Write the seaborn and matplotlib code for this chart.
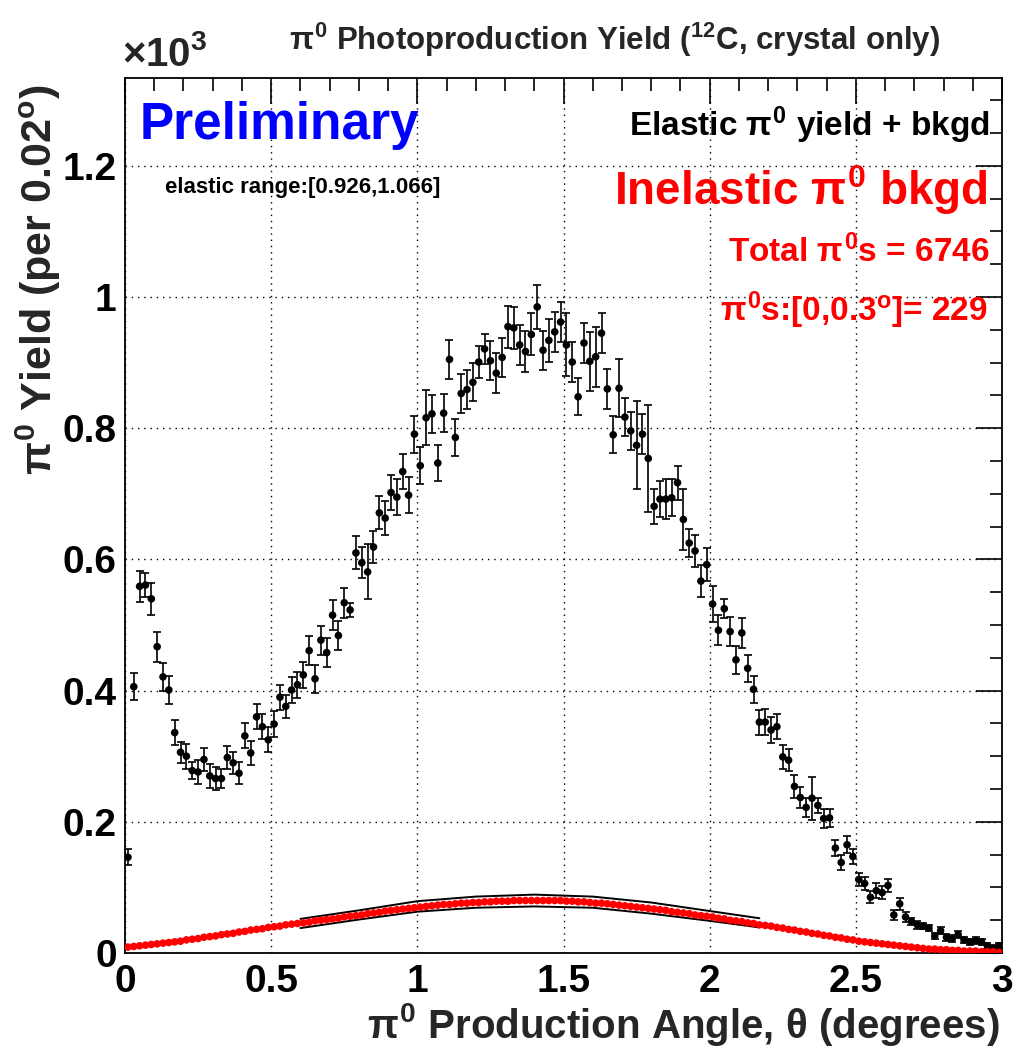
import numpy as np
import pandas as pd
import matplotlib
matplotlib.use("Agg")
import matplotlib.pyplot as plt
from matplotlib.ticker import MultipleLocator, FuncFormatter
import seaborn as sns

# bins of 0.02 degrees, values in units of 10^3
angle = np.round(np.arange(150) * 0.02 + 0.01, 2)

yield_vals = [
    0.146, 0.406, 0.559, 0.561, 0.540, 0.467, 0.421, 0.401, 0.336, 0.306,
    0.300, 0.278, 0.276, 0.295, 0.270, 0.266, 0.266, 0.298, 0.290, 0.274,
    0.331, 0.305, 0.360, 0.345, 0.325, 0.349, 0.390, 0.376, 0.401, 0.409,
    0.424, 0.461, 0.418, 0.477, 0.458, 0.515, 0.484, 0.534, 0.523, 0.610,
    0.595, 0.581, 0.619, 0.671, 0.663, 0.702, 0.695, 0.734, 0.698, 0.791,
    0.743, 0.816, 0.822, 0.747, 0.823, 0.905, 0.786, 0.853, 0.859, 0.870,
    0.901, 0.921, 0.903, 0.884, 0.908, 0.955, 0.953, 0.927, 0.917, 0.943,
    0.985, 0.919, 0.934, 0.947, 0.962, 0.927, 0.901, 0.848, 0.930, 0.902,
    0.909, 0.945, 0.860, 0.790, 0.861, 0.817, 0.796, 0.774, 0.791, 0.754,
    0.681, 0.692, 0.692, 0.694, 0.717, 0.661, 0.625, 0.613, 0.567, 0.592,
    0.532, 0.492, 0.525, 0.490, 0.447, 0.488, 0.434, 0.402, 0.352, 0.352,
    0.340, 0.345, 0.299, 0.294, 0.254, 0.237, 0.222, 0.236, 0.225, 0.205,
    0.206, 0.160, 0.138, 0.165, 0.147, 0.112, 0.106, 0.085, 0.095, 0.092,
    0.103, 0.058, 0.075, 0.055, 0.048, 0.043, 0.041, 0.038, 0.026, 0.034,
    0.024, 0.022, 0.028, 0.020, 0.017, 0.019, 0.017, 0.011, 0.007, 0.011,
]

yield_err = [
    0.012, 0.021, 0.024, 0.018, 0.024, 0.023, 0.021, 0.021, 0.019, 0.016,
    0.019, 0.013, 0.018, 0.018, 0.018, 0.017, 0.014, 0.018, 0.017, 0.017,
    0.019, 0.018, 0.019, 0.019, 0.019, 0.020, 0.019, 0.017, 0.020, 0.020,
    0.020, 0.022, 0.021, 0.022, 0.022, 0.023, 0.022, 0.023, 0.011, 0.025,
    0.024, 0.042, 0.025, 0.025, 0.026, 0.027, 0.027, 0.027, 0.027, 0.028,
    0.028, 0.042, 0.029, 0.028, 0.029, 0.030, 0.028, 0.030, 0.030, 0.029,
    0.024, 0.023, 0.030, 0.031, 0.030, 0.032, 0.032, 0.031, 0.031, 0.032,
    0.033, 0.030, 0.033, 0.031, 0.031, 0.048, 0.031, 0.028, 0.030, 0.045,
    0.046, 0.030, 0.030, 0.028, 0.044, 0.029, 0.029, 0.067, 0.031, 0.082,
    0.027, 0.028, 0.030, 0.028, 0.026, 0.046, 0.021, 0.025, 0.025, 0.025,
    0.027, 0.023, 0.015, 0.022, 0.021, 0.023, 0.021, 0.021, 0.019, 0.020,
    0.020, 0.019, 0.018, 0.017, 0.017, 0.016, 0.015, 0.033, 0.012, 0.015,
    0.014, 0.012, 0.012, 0.013, 0.012, 0.010, 0.010, 0.009, 0.011, 0.010,
    0.010, 0.008, 0.009, 0.008, 0.006, 0.006, 0.005, 0.005, 0.005, 0.005,
    0.005, 0.005, 0.005, 0.005, 0.005, 0.005, 0.005, 0.005, 0.005, 0.005,
]

bkgd_vals = [
    0.009, 0.010, 0.011, 0.012, 0.013, 0.014, 0.015, 0.016, 0.017, 0.018,
    0.020, 0.021, 0.022, 0.024, 0.025, 0.026, 0.028, 0.029, 0.030, 0.032,
    0.033, 0.035, 0.036, 0.037, 0.039, 0.040, 0.041, 0.043, 0.044, 0.045,
    0.046, 0.047, 0.049, 0.050, 0.051, 0.052, 0.053, 0.055, 0.056, 0.057,
    0.058, 0.060, 0.061, 0.062, 0.064, 0.065, 0.066, 0.067, 0.068, 0.069,
    0.070, 0.071, 0.072, 0.073, 0.074, 0.074, 0.075, 0.076, 0.076, 0.077,
    0.077, 0.078, 0.078, 0.079, 0.079, 0.079, 0.080, 0.080, 0.080, 0.080,
    0.080, 0.080, 0.080, 0.080, 0.080, 0.079, 0.079, 0.078, 0.078, 0.077,
    0.076, 0.076, 0.075, 0.074, 0.073, 0.072, 0.071, 0.070, 0.069, 0.068,
    0.067, 0.066, 0.065, 0.063, 0.062, 0.061, 0.060, 0.058, 0.057, 0.056,
    0.055, 0.053, 0.052, 0.050, 0.049, 0.048, 0.046, 0.045, 0.043, 0.042,
    0.041, 0.039, 0.038, 0.036, 0.035, 0.033, 0.032, 0.030, 0.029, 0.027,
    0.026, 0.024, 0.023, 0.021, 0.020, 0.018, 0.017, 0.016, 0.015, 0.014,
    0.013, 0.012, 0.011, 0.010, 0.009, 0.008, 0.007, 0.006, 0.006, 0.005,
    0.005, 0.004, 0.004, 0.003, 0.003, 0.003, 0.002, 0.002, 0.002, 0.001,
]

# uncertainty band on the background (upper / lower edges)
band_x = [0.60, 0.80, 1.00, 1.20, 1.40, 1.60, 1.80, 2.00, 2.17]
band_hi = [0.052, 0.065, 0.079, 0.086, 0.089, 0.086, 0.077, 0.064, 0.053]
band_lo = [0.038, 0.051, 0.063, 0.069, 0.071, 0.069, 0.060, 0.049, 0.039]

df = pd.DataFrame({"angle": angle, "yield": yield_vals, "err": yield_err,
                   "bkgd": bkgd_vals})
band = pd.DataFrame({"x": band_x, "hi": band_hi, "lo": band_lo})

sns.set_style("white")
plt.rcParams["font.family"] = ["Liberation Sans", "DejaVu Sans"]
plt.rcParams["font.weight"] = "bold"
plt.rcParams["mathtext.fontset"] = "custom"
plt.rcParams["mathtext.rm"] = "Liberation Sans:bold"
plt.rcParams["mathtext.it"] = "Liberation Sans:bold"
plt.rcParams["mathtext.bf"] = "Liberation Sans:bold"
plt.rcParams["mathtext.sf"] = "Liberation Sans:bold"

W, H = 1016, 1050
fig = plt.figure(figsize=(W / 100, H / 100), dpi=100)
ax = fig.add_axes([125 / W, 1 - 953 / H, 877 / W, 875 / H])


def fx(px):
    return px / W


def fy(py):
    return 1 - py / H


# data with error bars
ax.errorbar(df["angle"], df["yield"], yerr=df["err"], fmt="none",
            ecolor="black", elinewidth=1.2, capsize=2.6, capthick=1.2, zorder=3)
sns.scatterplot(data=df, x="angle", y="yield", ax=ax, color="black",
                s=30, edgecolor="none", zorder=4)

# background band and inelastic background
sns.lineplot(data=band, x="x", y="hi", ax=ax, color="black", lw=1.4, zorder=2)
sns.lineplot(data=band, x="x", y="lo", ax=ax, color="black", lw=1.4, zorder=2)
sns.scatterplot(data=df, x="angle", y="bkgd", ax=ax, color="red",
                s=30, edgecolor="none", zorder=5)

ax.set_xlim(0, 3)
ax.set_ylim(0, 1.334)
ax.set_xlabel("")
ax.set_ylabel("")

ax.xaxis.set_major_locator(MultipleLocator(0.5))
ax.xaxis.set_minor_locator(MultipleLocator(0.1))
ax.yaxis.set_major_locator(MultipleLocator(0.2))
ax.yaxis.set_minor_locator(MultipleLocator(0.05))
fmt = FuncFormatter(lambda v, p: "%g" % round(v, 2))
ax.xaxis.set_major_formatter(fmt)
ax.yaxis.set_major_formatter(fmt)

ax.tick_params(which="both", direction="in", top=True, right=True,
               width=1.2, colors="black")
ax.tick_params(which="major", length=19, labelsize=28)
ax.tick_params(which="minor", length=9)
ax.tick_params(axis="x", which="major", pad=8)
ax.tick_params(axis="y", which="major", pad=6)

ax.grid(True, which="major", color="black", lw=1.0, ls=(0, (1, 3.5)))
for s in ax.spines.values():
    s.set_color("black")
    s.set_linewidth(1.3)

# titles
fig.text(fx(615), fy(40), r"$\pi^{0}$ Photoproduction Yield ($^{12}$C, crystal only)",
         ha="center", va="center", fontsize=22.5)
fig.text(fx(122), fy(55), r"$\times10^{3}$", ha="left", va="center", fontsize=29)
fig.text(fx(38), fy(85), r"$\pi^{0}$ Yield (per 0.02$^{o}$)", rotation=90,
         ha="center", va="top", fontsize=31)
fig.text(fx(1000), fy(1025), r"$\pi^{0}$ Production Angle, $\theta$ (degrees)",
         ha="right", va="center", fontsize=29)

# annotations
fig.text(fx(140), fy(125), "Preliminary", color="#0000ff", ha="left",
         va="center", fontsize=37)
fig.text(fx(165), fy(187), "elastic range:[0.926,1.066]", color="black",
         ha="left", va="center", fontsize=16)
fig.text(fx(990), fy(125), r"Elastic $\pi^{0}$ yield + bkgd", color="black",
         ha="right", va="center", fontsize=24)
fig.text(fx(988), fy(190), r"Inelastic $\pi^{0}$ bkgd", color="red",
         ha="right", va="center", fontsize=33)
fig.text(fx(990), fy(252), r"Total $\pi^{0}$s = 6746", color="red",
         ha="right", va="center", fontsize=24)
fig.text(fx(988), fy(310), r"$\pi^{0}$s:[0,0.3$^{o}$]= 229", color="red",
         ha="right", va="center", fontsize=24)

fig.savefig("out.png", dpi=100, facecolor="white")
